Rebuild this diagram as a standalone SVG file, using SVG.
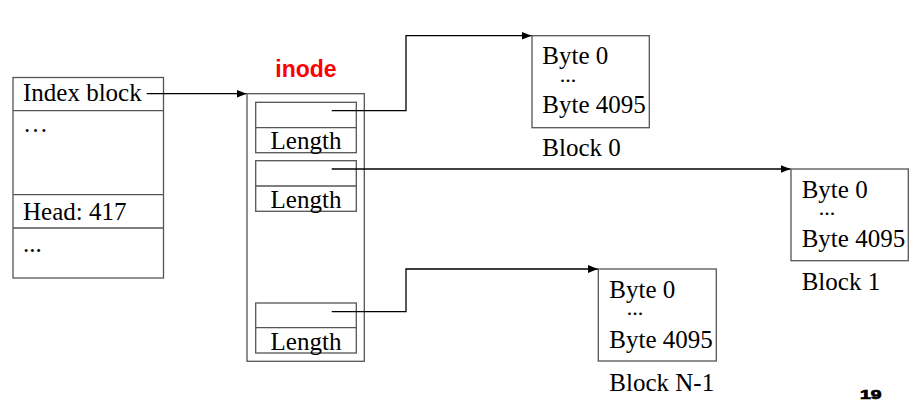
<svg xmlns="http://www.w3.org/2000/svg" width="922" height="405" viewBox="0 0 922 405">
<style>
.box{fill:#fff;stroke:#555;stroke-width:1.3}
.t{font-family:"Liberation Serif","Times New Roman",serif;font-size:25px;fill:#000}
.d{font-family:"Liberation Serif","Times New Roman",serif;font-size:22px;fill:#000}
.c{fill:none;stroke:#000;stroke-width:1.3}
</style>
<defs>
<marker id="ah" viewBox="0 0 10 10" refX="10" refY="5" markerWidth="10" markerHeight="10" markerUnits="userSpaceOnUse" orient="auto">
<path d="M0,1 L10,5 L0,9 Z" fill="#000"/>
</marker>
</defs>
<rect width="922" height="405" fill="#fff"/>
<g id="index-block">
<rect class="box" x="13" y="77.5" width="150.5" height="200.5"/>
<line class="box" x1="13" y1="110.7" x2="163.5" y2="110.7"/>
<line class="box" x1="13" y1="194.7" x2="163.5" y2="194.7"/>
<line class="box" x1="13" y1="228" x2="163.5" y2="228"/>
<text class="t" x="23" y="101">Index block</text>
<text class="t" x="23" y="132">…</text>
<text class="t" x="23" y="220">Head: 417</text>
<text class="t" x="23" y="252">...</text>
</g>
<g id="inode">
<text x="306" y="77.3" text-anchor="middle" font-family="'Liberation Sans',Arial,sans-serif" font-weight="bold" font-size="23" fill="#ff0000">inode</text>
<rect class="box" x="247" y="93.7" width="117.3" height="267.6"/>
<rect class="box" x="255.7" y="102.3" width="100.6" height="50.4"/>
<line class="box" x1="255.7" y1="127.7" x2="356.3" y2="127.7"/>
<text class="t" x="306" y="149.3" text-anchor="middle">Length</text>
<rect class="box" x="255.7" y="160.7" width="100.6" height="50.6"/>
<line class="box" x1="255.7" y1="186" x2="356.3" y2="186"/>
<text class="t" x="306" y="208" text-anchor="middle">Length</text>
<rect class="box" x="255.7" y="303" width="100.6" height="50"/>
<line class="box" x1="255.7" y1="327.7" x2="356.3" y2="327.7"/>
<text class="t" x="306" y="349.5" text-anchor="middle">Length</text>
</g>
<g id="block0">
<rect class="box" x="532" y="35.7" width="117.3" height="92"/>
<text class="t" x="542.3" y="64.3">Byte 0</text>
<text class="d" x="568" y="82" text-anchor="middle">...</text>
<text class="t" x="542.3" y="113.3">Byte 4095</text>
<text class="t" x="542.3" y="155.7">Block 0</text>
</g>
<g id="block1">
<rect class="box" x="791" y="169" width="117.3" height="91.7"/>
<text class="t" x="801.7" y="197.7">Byte 0</text>
<text class="d" x="827" y="215" text-anchor="middle">...</text>
<text class="t" x="801.7" y="247.3">Byte 4095</text>
<text class="t" x="801.7" y="290">Block 1</text>
</g>
<g id="blockN-1">
<rect class="box" x="598.3" y="269" width="118" height="92"/>
<text class="t" x="609.3" y="297.7">Byte 0</text>
<text class="d" x="635" y="315" text-anchor="middle">...</text>
<text class="t" x="609.3" y="347.7">Byte 4095</text>
<text class="t" x="609.3" y="390.7">Block N-1</text>
</g>
<text x="860" y="399" font-family="'Liberation Sans',Arial,sans-serif" font-weight="bold" font-size="12.5" textLength="21.5" lengthAdjust="spacingAndGlyphs" fill="#000" stroke="#000" stroke-width="0.7">19</text>
<g id="connectors">
<path class="c" d="M146.7,93.7 H246.5" marker-end="url(#ah)"/>
<path class="c" d="M331.7,110.7 H406 V35.7 H531.5" marker-end="url(#ah)"/>
<path class="c" d="M331.7,169 H790.5" marker-end="url(#ah)"/>
<path class="c" d="M331.7,311.7 H406 V269 H597.8" marker-end="url(#ah)"/>
</g>
</svg>
